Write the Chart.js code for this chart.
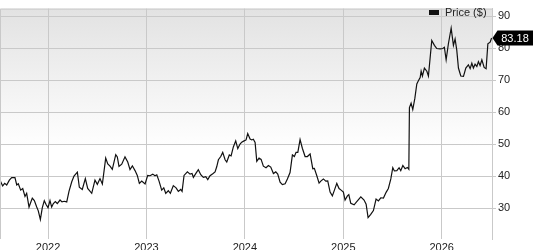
<!DOCTYPE html>
<html>
<head>
<meta charset="utf-8">
<script src="https://cdn.jsdelivr.net/npm/chart.js@4/dist/chart.umd.min.js"></script>
<style>
  html, body { margin: 0; padding: 0; background: #fff; }
  #wrap { width: 533px; height: 250px; }
</style>
</head>
<body>
<div id="wrap"><canvas id="priceChart" width="533" height="250"></canvas></div>
<script>
// dates as decimal years, prices in $
const dates = [
  2021.512, 2021.539, 2021.560, 2021.580, 2021.607, 2021.631, 2021.664, 2021.682, 2021.698, 2021.722,
  2021.743, 2021.766, 2021.783, 2021.807, 2021.840, 2021.861, 2021.885, 2021.901, 2021.922, 2021.942,
  2021.962, 2021.980, 2022.000, 2022.020, 2022.037, 2022.054, 2022.074, 2022.094, 2022.122, 2022.142,
  2022.165, 2022.190, 2022.213, 2022.241, 2022.264, 2022.298, 2022.318, 2022.348, 2022.379, 2022.403,
  2022.444, 2022.477, 2022.501, 2022.528, 2022.552, 2022.586, 2022.607, 2022.630, 2022.653, 2022.688,
  2022.704, 2022.721, 2022.749, 2022.782, 2022.810, 2022.833, 2022.857, 2022.884, 2022.907, 2022.928,
  2022.952, 2022.986, 2023.013, 2023.036, 2023.064, 2023.087, 2023.105, 2023.128, 2023.155, 2023.176,
  2023.196, 2023.222, 2023.243, 2023.273, 2023.301, 2023.324, 2023.348, 2023.362, 2023.382, 2023.416,
  2023.443, 2023.463, 2023.477, 2023.504, 2023.527, 2023.552, 2023.578, 2023.603, 2023.623, 2023.646,
  2023.674, 2023.697, 2023.714, 2023.731, 2023.755, 2023.775, 2023.799, 2023.816, 2023.842, 2023.860,
  2023.883, 2023.907, 2023.928, 2023.951, 2023.968, 2023.992, 2024.012, 2024.029, 2024.053, 2024.070,
  2024.086, 2024.104, 2024.121, 2024.144, 2024.165, 2024.188, 2024.215, 2024.239, 2024.263, 2024.290,
  2024.314, 2024.334, 2024.358, 2024.381, 2024.409, 2024.432, 2024.459, 2024.483, 2024.503, 2024.520,
  2024.538, 2024.561, 2024.584, 2024.612, 2024.635, 2024.663, 2024.690, 2024.706, 2024.731, 2024.754,
  2024.774, 2024.798, 2024.822, 2024.842, 2024.866, 2024.889, 2024.910, 2024.934, 2024.957, 2024.978,
  2025.001, 2025.018, 2025.042, 2025.056, 2025.076, 2025.110, 2025.137, 2025.178, 2025.211, 2025.232,
  2025.252, 2025.279, 2025.306, 2025.333, 2025.357, 2025.381, 2025.408, 2025.435, 2025.458, 2025.483,
  2025.503, 2025.519, 2025.544, 2025.567, 2025.584, 2025.605, 2025.628, 2025.651, 2025.666, 2025.672,
  2025.689, 2025.706, 2025.727, 2025.747, 2025.763, 2025.781, 2025.791, 2025.804, 2025.824, 2025.849,
  2025.865, 2025.899, 2025.926, 2025.950, 2025.984, 2026.011, 2026.027, 2026.045, 2026.068, 2026.096,
  2026.119, 2026.136, 2026.153, 2026.170, 2026.194, 2026.221, 2026.245, 2026.271, 2026.289, 2026.306,
  2026.322, 2026.339, 2026.357, 2026.373, 2026.390, 2026.408, 2026.431, 2026.451, 2026.469, 2026.492,
  2026.507
];

const prices = [
  38.7, 36.9, 37.7, 37.2, 38.7, 39.5, 39.5, 37.2, 37.6, 35.6,
  36.1, 33.6, 34.6, 30.3, 33.1, 32.3, 30.3, 29.1, 26.4, 30.1,
  32.3, 31.1, 30.1, 32.3, 30.3, 31.4, 32.0, 31.4, 32.5, 31.9,
  32.1, 31.9, 35.2, 38.2, 40.0, 41.2, 36.5, 35.8, 39.2, 36.1,
  34.6, 38.7, 37.4, 39.2, 37.5, 45.6, 43.8, 43.1, 42.1, 46.7,
  46.0, 43.0, 43.7, 46.0, 44.4, 42.0, 43.2, 41.7, 40.2, 37.7,
  38.4, 37.5, 40.2, 40.1, 40.6, 40.1, 40.4, 38.4, 35.6, 36.3,
  34.6, 35.4, 34.6, 37.0, 36.3, 35.2, 35.8, 35.2, 40.2, 41.3,
  40.6, 40.8, 39.6, 40.9, 42.0, 40.4, 39.6, 39.8, 38.9, 40.1,
  40.7, 41.3, 42.9, 45.1, 46.1, 47.4, 45.1, 44.4, 46.6, 46.3,
  49.1, 51.0, 48.6, 50.0, 50.6, 51.0, 51.3, 53.3, 51.6, 51.3,
  51.5, 50.5, 44.6, 45.6, 45.2, 43.1, 42.6, 43.3, 42.8, 40.8,
  41.3, 40.6, 38.1, 37.3, 37.6, 39.1, 41.1, 46.6, 46.1, 47.4,
  47.4, 51.4, 48.7, 46.1, 46.1, 46.9, 42.3, 42.4, 40.1, 37.8,
  38.5, 39.1, 38.4, 38.5, 35.0, 33.8, 35.6, 37.7, 36.1, 35.6,
  35.0, 32.5, 33.8, 34.2, 31.5, 31.0, 32.0, 33.5, 32.5, 31.2,
  27.0, 28.0, 29.2, 32.8, 32.2, 33.2, 33.1, 34.9, 36.1, 39.1,
  42.6, 41.6, 41.7, 42.6, 41.7, 43.3, 42.3, 42.7, 42.1, 61.4,
  62.8, 60.8, 64.3, 68.8, 69.8, 70.8, 72.8, 71.3, 73.8, 72.8,
  71.3, 82.4, 80.9, 79.9, 79.8, 79.9, 80.3, 76.4, 81.4, 86.3,
  80.9, 82.9, 79.4, 73.8, 71.3, 71.2, 73.8, 74.8, 73.6, 75.3,
  73.8, 75.0, 74.3, 75.8, 74.6, 76.4, 74.0, 73.6, 81.4, 81.9,
  83.18
];

const yearTicks = [2022, 2023, 2024, 2025, 2026];
const priceTicks = [30, 40, 50, 60, 70, 80, 90];
const seriesLabel = 'Price ($)';

const FONT = '"Liberation Sans", Arial, sans-serif';
const GRID = '#c9c9c9';

// gray-to-white background inside the plot, plus left/top border
const backdrop = {
    id: 'backdrop',
    beforeDraw(chart) {
        const { ctx, chartArea: a } = chart;
        const g = ctx.createLinearGradient(0, a.top, 0, a.top + 140);
        g.addColorStop(0, '#e2e2e2');
        g.addColorStop(1, '#ffffff');
        ctx.save();
        ctx.fillStyle = g;
        ctx.fillRect(a.left, a.top, a.right - a.left, a.bottom - a.top);
        ctx.restore();
    },
    afterDraw(chart) {
        const { ctx, chartArea: a } = chart;
        ctx.save();
        ctx.strokeStyle = GRID;
        ctx.lineWidth = 1;
        ctx.beginPath();
        ctx.moveTo(a.left + 0.5, a.bottom);
        ctx.lineTo(a.left + 0.5, a.top + 0.5);
        ctx.lineTo(a.right, a.top + 0.5);
        ctx.stroke();
        ctx.restore();
    }
};

// legend at top right and the last-price tag
const decorations = {
    id: 'decorations',
    afterDraw(chart) {
        const { ctx, chartArea: a } = chart;
        ctx.save();
        ctx.fillStyle = '#111';
        ctx.fillRect(429, 10, 10, 5);
        ctx.fillStyle = '#222';
        ctx.font = '11px ' + FONT;
        ctx.textBaseline = 'middle';
        ctx.textAlign = 'left';
        ctx.fillText(seriesLabel, 445, 12.5);

        const last = prices[prices.length - 1];
        const y = chart.scales.y.getPixelForValue(last);
        const x0 = a.right + 0.5;
        ctx.fillStyle = '#000';
        ctx.beginPath();
        ctx.moveTo(x0, y);
        ctx.lineTo(x0 + 5, y - 7.5);
        ctx.lineTo(533, y - 7.5);
        ctx.lineTo(533, y + 7.5);
        ctx.lineTo(x0 + 5, y + 7.5);
        ctx.closePath();
        ctx.fill();
        ctx.fillStyle = '#fff';
        ctx.textAlign = 'center';
        ctx.fillText(last.toFixed(2), 515, y + 0.5);
        ctx.restore();
    }
};

new Chart(document.getElementById('priceChart'), {
    type: 'line',
    data: {
        datasets: [{
            label: seriesLabel,
            data: dates.map((d, i) => ({ x: d, y: prices[i] })),
            borderColor: '#111',
            borderWidth: 1.2,
            pointRadius: 0,
            tension: 0,
            fill: false
        }]
    },
    options: {
        responsive: false,
        animation: false,
        layout: { padding: 0 },
        plugins: {
            legend: { display: false },
            tooltip: { enabled: false }
        },
        scales: {
            x: {
                type: 'linear',
                min: 2021.512,
                max: 2026.511,
                afterBuildTicks: s => { s.ticks = yearTicks.map(v => ({ value: v })); },
                afterFit: s => { s.height = 11; },
                grid: { color: GRID, drawTicks: false },
                border: { display: false },
                ticks: {
                    autoSkip: false,
                    maxRotation: 0,
                    padding: 2,
                    color: '#222',
                    font: { family: FONT, size: 11 },
                    callback: v => String(v)
                }
            },
            y: {
                position: 'right',
                min: 20.3,
                max: 92.4,
                afterBuildTicks: s => { s.ticks = priceTicks.map(v => ({ value: v })); },
                afterFit: s => { s.width = 41; },
                grid: { color: GRID, tickLength: 4 },
                border: { display: true, color: GRID },
                ticks: {
                    padding: 2,
                    color: '#222',
                    font: { family: FONT, size: 11 }
                }
            }
        }
    },
    plugins: [backdrop, decorations]
});
</script>
</body>
</html>
